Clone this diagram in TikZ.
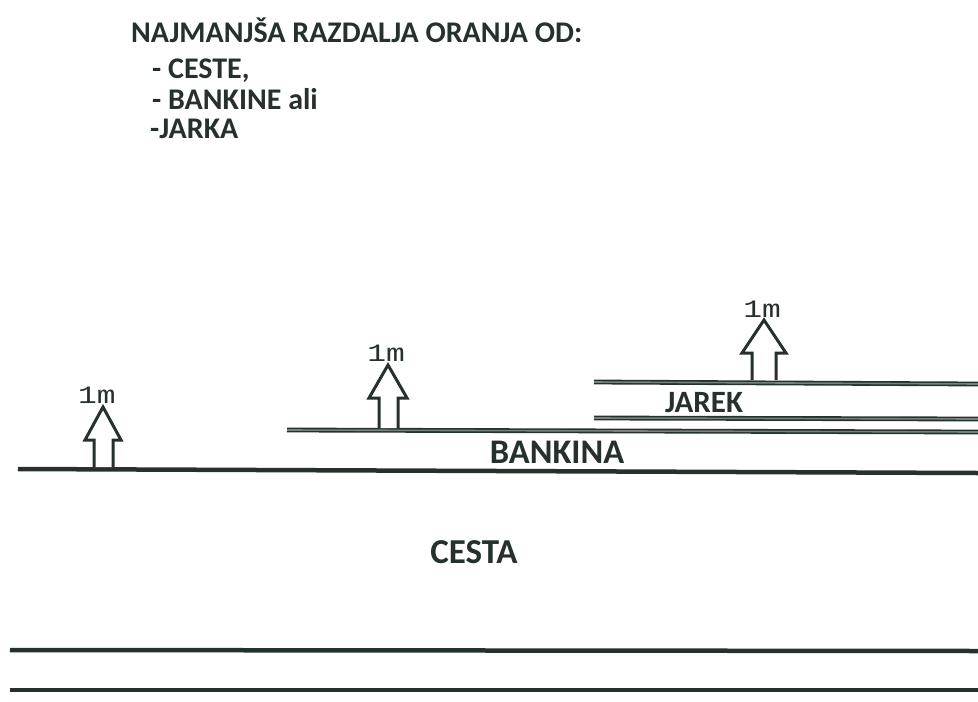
\documentclass[tikz,border=0pt]{standalone}
\usepackage{fontspec}
\setmainfont{Carlito}
\newfontfamily\monof{Liberation Mono}
\definecolor{ink}{RGB}{38,48,44}
\definecolor{inkin}{RGB}{120,130,125}
\begin{document}
\begin{tikzpicture}[x=1pt,y=-1pt,
  road/.style={draw=ink,line width=4.5pt},
  edge/.style={draw=ink,line width=1.6pt,double=inkin,double distance=1.6pt},
  uparrow/.style={draw=ink,line width=3pt,fill=white,line join=miter},
  lbl/.style={font=\bfseries\fontsize{#1}{#1}\selectfont,text=ink,inner sep=0pt},
  onem/.style={font=\monof\fontsize{25}{25}\selectfont,text=ink,inner sep=0pt}]
\useasboundingbox (0,0) rectangle (978,702);
% title
\node[lbl=30,anchor=base west] (t1) at (131,42) {NAJMANJŠA RAZDALJA ORANJA OD:};
\node[lbl=30,anchor=base west] (t2) at (152,78) {- CESTE,};
\node[lbl=30,anchor=base west] (t3) at (152,109) {- BANKINE ali};
\node[lbl=30,anchor=base west] (t4) at (150,138) {-JARKA};
% lines
\coordinate (c1) at (18,469); \coordinate (c2) at (978,473);
\draw[road] (c1) -- (c2);
\coordinate (b1) at (287,430); \coordinate (b2) at (978,432);
\draw[edge] (b1) -- (b2);
\coordinate (j1) at (594,418); \coordinate (j2) at (978,419);
\draw[edge] (j1) -- (j2);
\coordinate (k1) at (594,382); \coordinate (k2) at (978,384);
\draw[edge] (k1) -- (k2);
\coordinate (d1) at (10,650); \coordinate (d2) at (978,651);
\draw[road] (d1) -- (d2);
\coordinate (e1) at (10,690); \coordinate (e2) at (978,690);
\draw[road,line width=4pt] (e1) -- (e2);
% arrows
\draw[uparrow] (94,467) -- (94,440) -- (85,440) -- (103,407) -- (121,440) -- (113,440) -- (113,467);
\draw[uparrow] (379,428) -- (379,398) -- (369,398) -- (388,365) -- (407,398) -- (398,398) -- (398,428);
\draw[uparrow] (752,380) -- (752,353) -- (742,353) -- (764,320) -- (786,353) -- (776,353) -- (776,380);
% 1m labels
\node[onem,anchor=base] (m1) at (97,403) {\scalebox{1.25}[1]{1m}};
\node[onem,anchor=base] (m2) at (386,361) {\scalebox{1.25}[1]{1m}};
\node[onem,anchor=base] (m3) at (762,317) {\scalebox{1.25}[1]{1m}};
% labels
\node[lbl=31,anchor=base] (jarek) at (704,412) {JAREK};
\node[lbl=34.5,anchor=base] (bankina) at (557,463) {BANKINA};
\node[lbl=35,anchor=base] (cesta) at (474,563) {CESTA};
\end{tikzpicture}
\end{document}
